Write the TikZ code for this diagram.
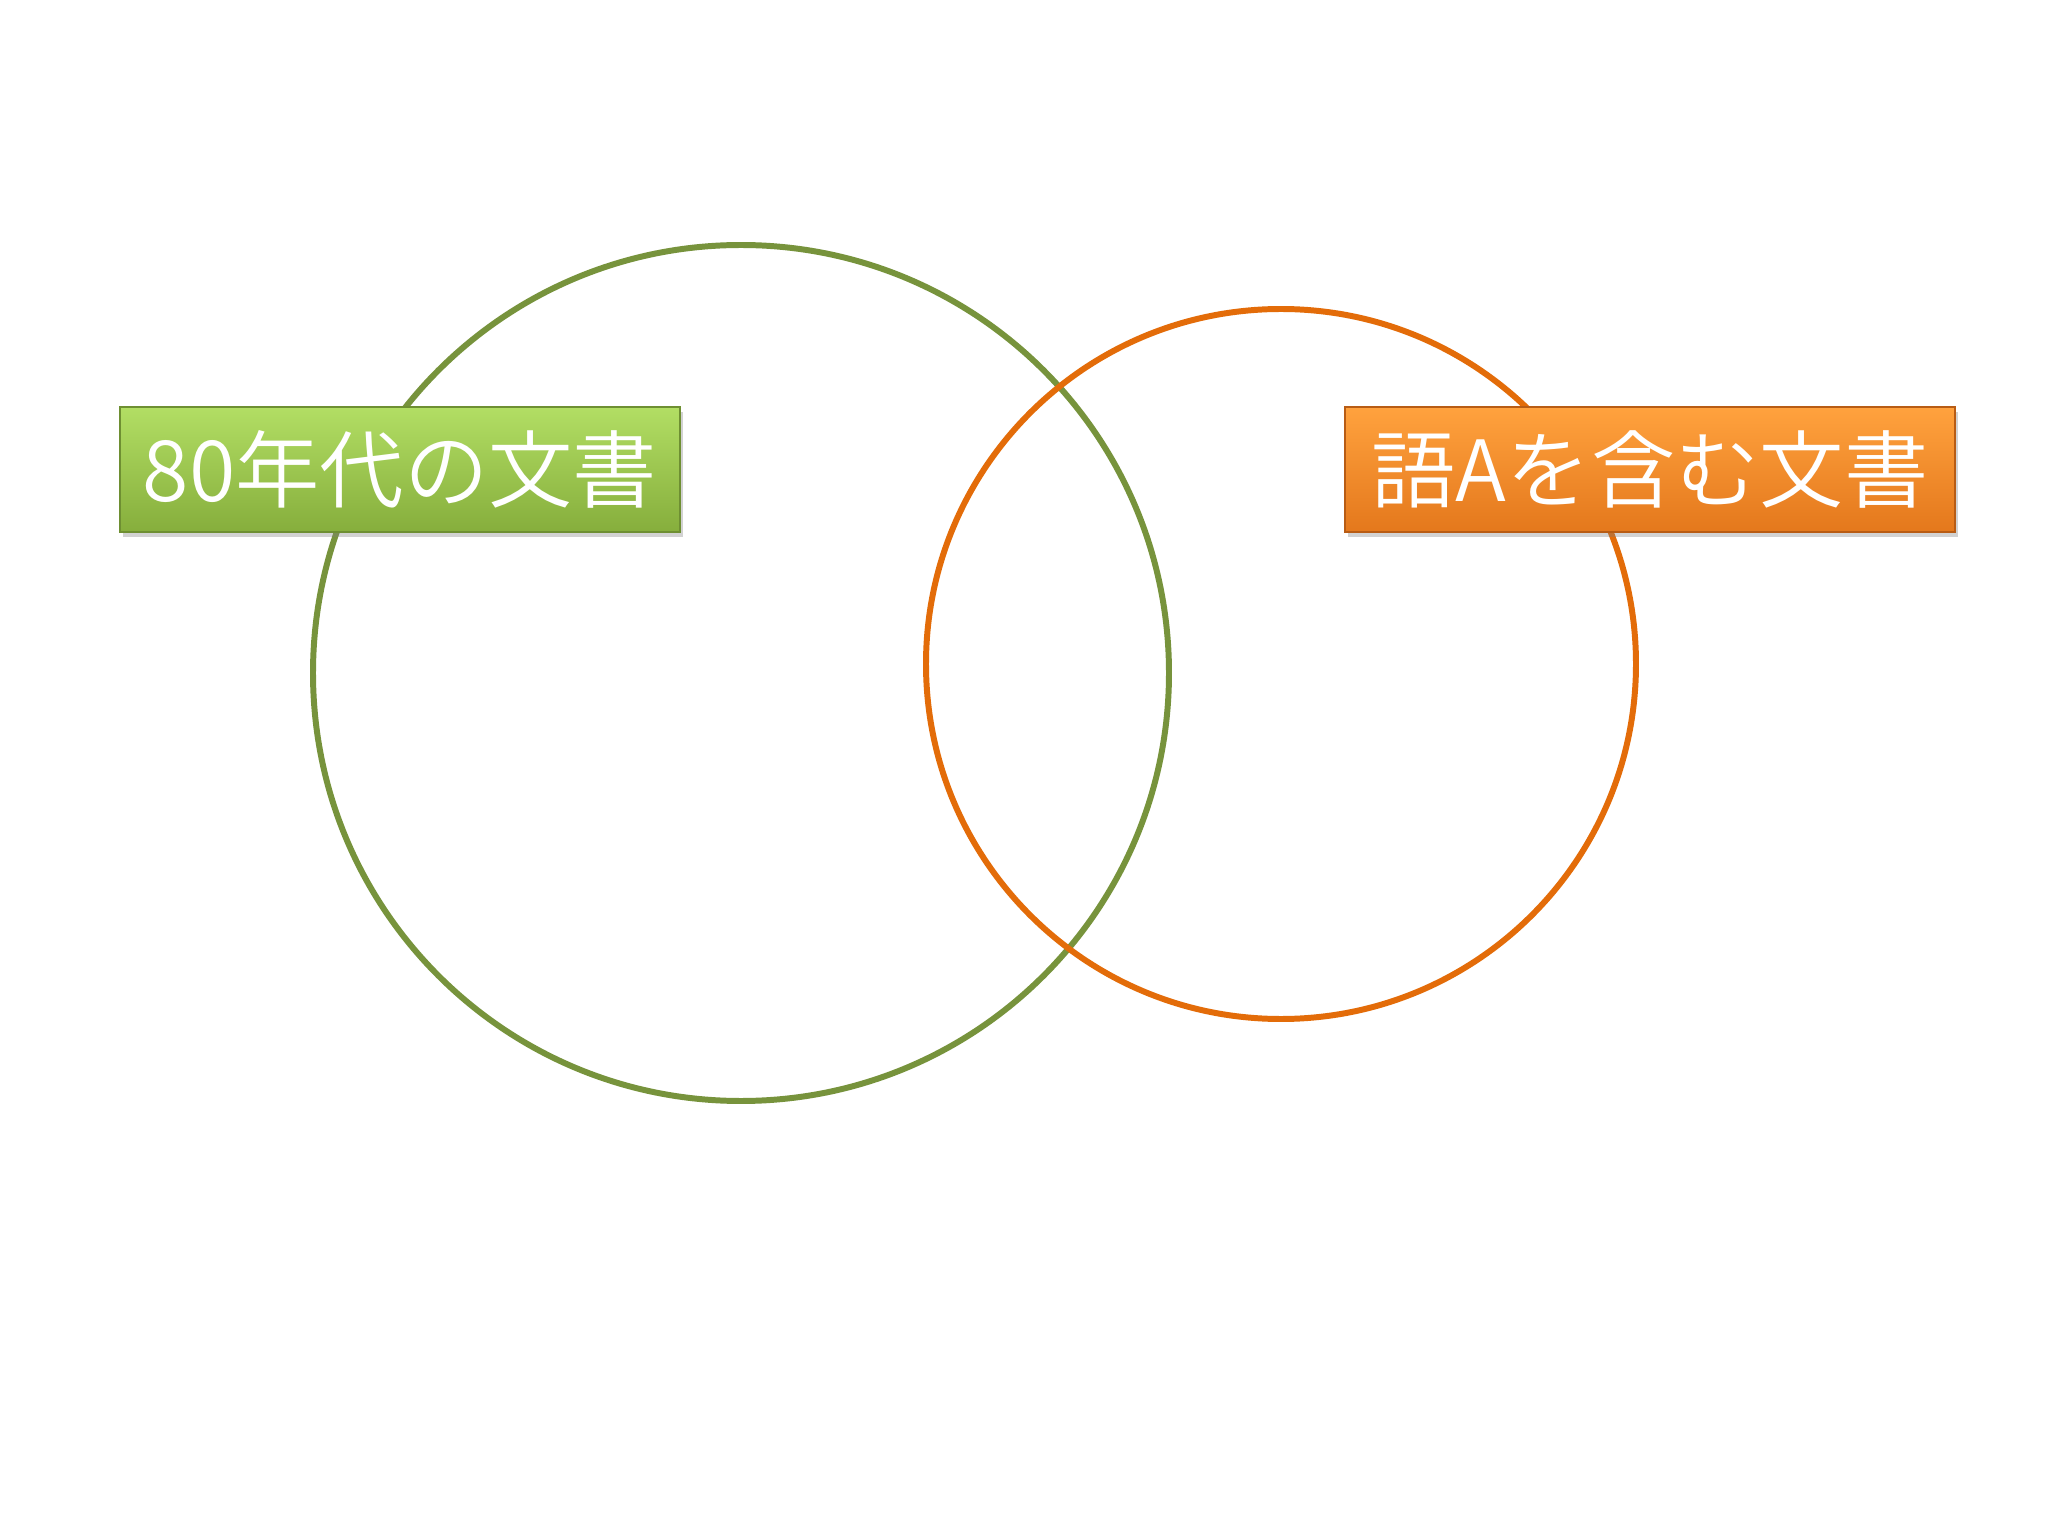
\documentclass[tikz,border=0pt]{standalone}
\usepackage{fontspec}
\newfontfamily\cjk{Noto Sans CJK JP DemiLight}
\usetikzlibrary{shadows}
\definecolor{gline}{HTML}{77933C}
\definecolor{oline}{HTML}{E36C09}
\definecolor{gtop}{HTML}{B2DE64}
\definecolor{gbot}{HTML}{86AE3C}
\definecolor{gedge}{HTML}{6E8F32}
\definecolor{otop}{HTML}{FFA23E}
\definecolor{obot}{HTML}{E4781C}
\definecolor{oedge}{HTML}{B85C14}
\tikzset{
  ring/.style={line width=1.7pt},
  labelbox/.style={rectangle, inner sep=0pt, text=white,
    font=\cjk\fontsize{24}{28}\selectfont,
    drop shadow={shadow xshift=0.03cm, shadow yshift=-0.05cm, opacity=0.35}},
  greenbox/.style={labelbox, top color=gtop, bottom color=gbot, draw=gedge, line width=0.6pt},
  orangebox/.style={labelbox, top color=otop, bottom color=obot, draw=oedge, line width=0.6pt}
}
\begin{document}
\begin{tikzpicture}
\useasboundingbox[fill=white] (0,0) rectangle (20.48,-15.36);
\draw[ring, gline] (7.41,-6.73) circle[radius=4.28];
\draw[ring, oline] (12.81,-6.64) circle[radius=3.55];
\node[greenbox, minimum width=5.60cm, minimum height=1.25cm] (g) at (4.00,-4.695) {80年代の文書};
\node[orangebox, minimum width=6.10cm, minimum height=1.25cm] (o) at (16.50,-4.695) {語Aを含む文書};
\end{tikzpicture}
\end{document}
